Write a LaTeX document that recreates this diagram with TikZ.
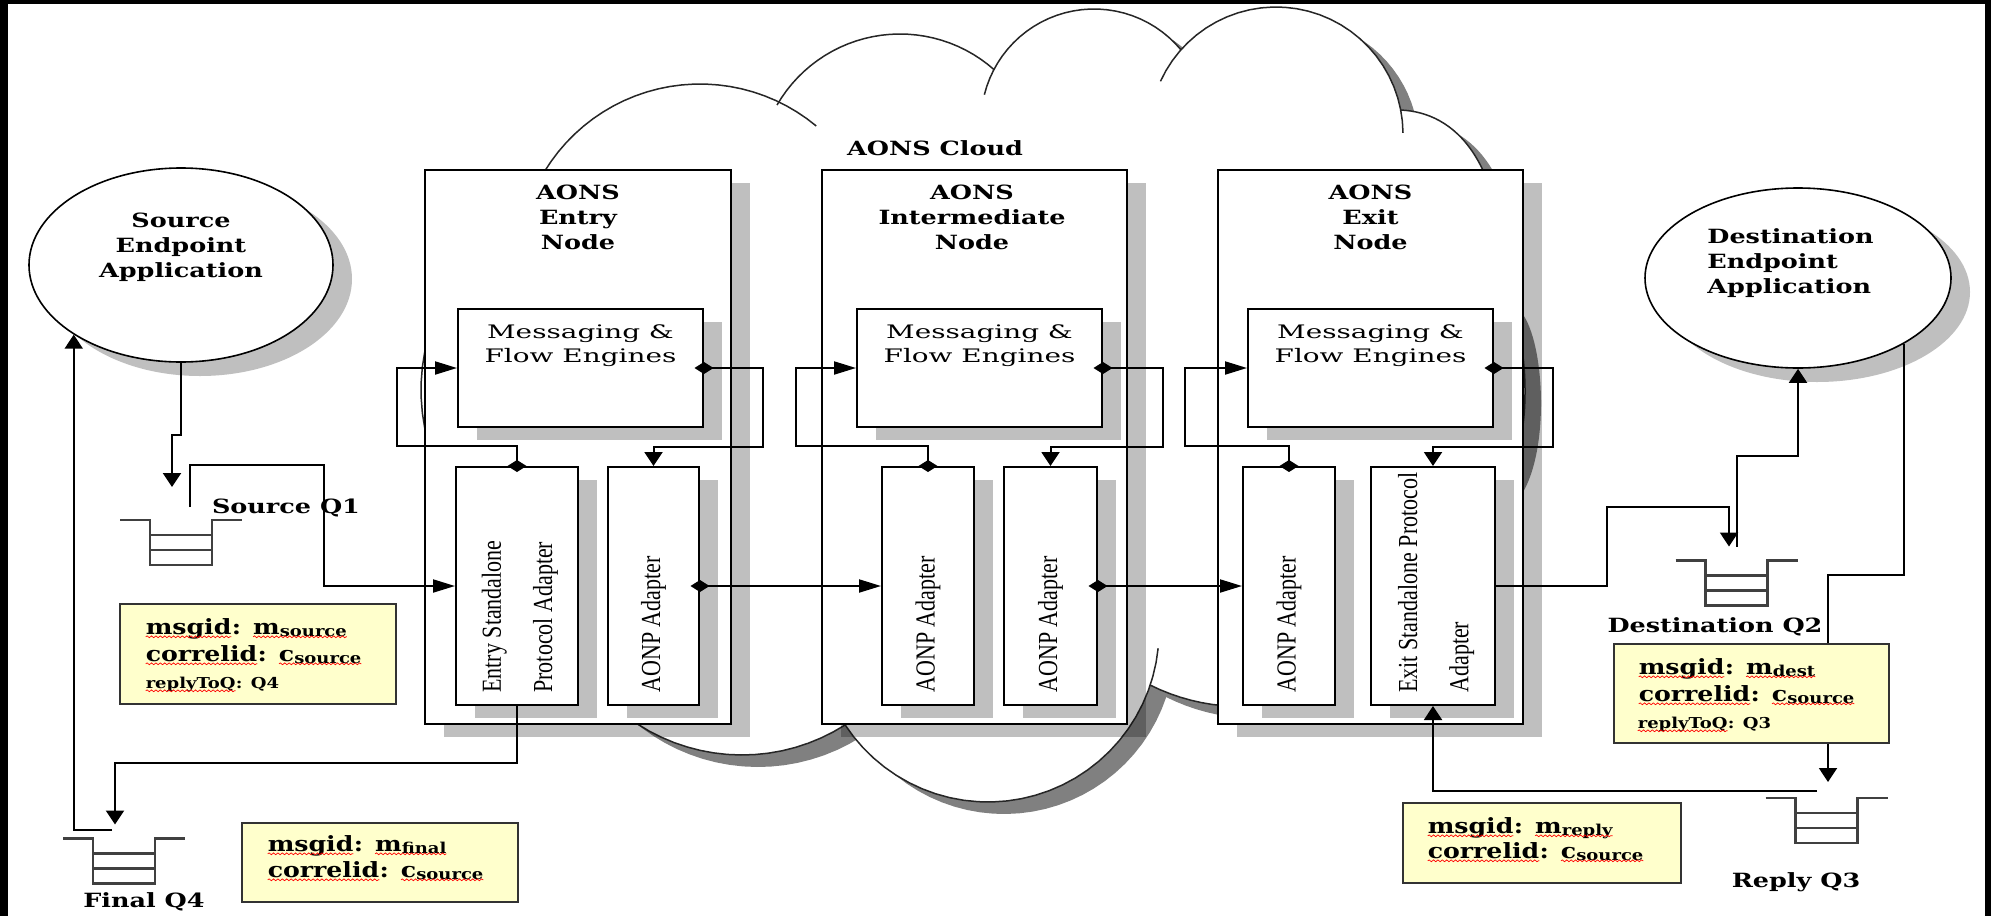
\documentclass[tikz,border=0pt]{standalone}
\usepackage{fontspec}
\usetikzlibrary{arrows.meta,calc,decorations.pathmorphing,shapes.geometric,shadows}
\newfontfamily\ttlfont{DejaVu Serif}[FakeStretch=1.3]
\newfontfamily\yfont{DejaVu Serif}[FakeStretch=1.2]
\newfontfamily\msgfont{DejaVu Serif}[FakeStretch=1.5]
\newfontfamily\adpfont{Liberation Serif}
\definecolor{yel}{HTML}{FFFFCC}
\definecolor{cshd}{HTML}{808080}
\newcommand\sq[1]{\tikz[baseline=(sqw.base)]{\node[inner sep=0pt,outer sep=0pt](sqw){#1};\draw[red,line width=0.35pt,decorate,decoration={snake,amplitude=0.45pt,segment length=2.2pt}]([yshift=-1.4pt]sqw.base west)--([yshift=-1.4pt]sqw.base east);}}
\newcommand\sbs[1]{\raisebox{-1pt}{\fontsize{7.5}{8}\selectfont #1}}
\newcommand\cloudshape{plot[domain=195.1:296.3,samples=30] ({700+182*cos(\x)},{266+182*sin(\x)})
 -- plot[domain=210:311.6,samples=30] ({900+142*cos(\x)},{176+142*sin(\x)})
 -- plot[domain=207.5:320.4,samples=30] ({1094+113*cos(\x)},{122+113*sin(\x)})
 -- plot[domain=221.5:349,samples=30] ({1276+127*cos(\x)},{134+127*sin(\x)})
 -- (1400,110) .. controls (1455,112) and (1506,160) .. (1505,300)
 .. controls (1530,330) and (1535,450) .. (1500,490)
 .. controls (1490,550) and (1460,590) .. (1425,600)
 -- plot[domain=27.8:116.6,samples=30] ({1241+203.5*cos(\x)},{503+203.5*sin(\x)})
 -- plot[domain=18.4:146.7,samples=30] ({988+171*cos(\x)},{631+171*sin(\x)})
 -- plot[domain=57.5:176.4,samples=30] ({742+192*cos(\x)},{563+192*sin(\x)})
 -- plot[domain=110.2:240.8,samples=30] ({618+197*cos(\x)},{390+197*sin(\x)})
 -- cycle}
\newcommand\drawqueue[1]{%
 \draw[qline] ([xshift=-15pt]#1.north west) -- (#1.north west) -- (#1.south west) -- (#1.south east) -- (#1.north east) -- ([xshift=15pt]#1.north east);
 \draw[qline] ($(#1.north west)!0.333!(#1.south west)$) -- ($(#1.north east)!0.333!(#1.south east)$);
 \draw[qline] ($(#1.north west)!0.667!(#1.south west)$) -- ($(#1.north east)!0.667!(#1.south east)$);}
\newcommand\dmd[1]{\fill (#1) +(-9.5,0) -- +(0,-6) -- +(9.5,0) -- +(0,6) -- cycle;}
\begin{document}
\begin{tikzpicture}[x=0.5pt,y=-0.5pt,
  nodebox/.style={draw=black,line width=1pt,fill=white,inner sep=0pt,drop shadow={shadow xshift=9.5pt,shadow yshift=-6.5pt,fill=black,opacity=0.25}},
  ell/.style={ellipse,draw=black,line width=0.8pt,fill=white,inner sep=0pt,drop shadow={shadow xshift=9.5pt,shadow yshift=-7pt,fill=black,opacity=0.25}},
  ybox/.style={draw=black!80,line width=1pt,fill=yel,inner sep=0pt},
  qnode/.style={inner sep=0pt,outer sep=0pt,minimum width=31pt,minimum height=22.5pt},
  qline/.style={draw=black!75,line width=1.1pt},
  cloudline/.style={draw=black!85,line width=0.75pt},
  conn/.style={draw=black,line width=1pt},
  harr/.style={-{Triangle[length=11pt,width=6.5pt]}},
  varr/.style={-{Triangle[length=7pt,width=9pt]}},
  ttl/.style={font=\ttlfont\bfseries\fontsize{9.8}{12.5}\selectfont,align=center,inner sep=0pt},
  msg/.style={font=\msgfont\fontsize{9.3}{12}\selectfont,align=center,inner sep=0pt},
  adp/.style={font=\adpfont\fontsize{11}{20.5}\selectfont,align=left,inner sep=0pt,rotate=90,yscale=1.25,anchor=west},
  ylin/.style={font=\yfont\bfseries\fontsize{10.5}{12}\selectfont,inner sep=0pt,anchor=base west},
  ysm/.style={font=\yfont\bfseries\fontsize{7.5}{9}\selectfont,inner sep=0pt,anchor=base west}]
\useasboundingbox (0,0) rectangle (1991,916);
\fill[black] (0,0) rectangle (1991,916);
\fill[white] (8,4) rectangle (1985,916);
% cloud
\begin{scope}[shift={(16,12)}]
 \fill[cshd] \cloudshape;
\end{scope}
\fill[white] \cloudshape;
\draw[cloudline] plot[domain=200:309.7,samples=30] ({700+182*cos(\x)},{266+182*sin(\x)});
\draw[cloudline] plot[domain=210:311.6,samples=30] ({900+142*cos(\x)},{176+142*sin(\x)});
\draw[cloudline] plot[domain=194:320.4,samples=30] ({1094+113*cos(\x)},{122+113*sin(\x)});
\draw[cloudline] plot[domain=204.5:359.5,samples=30] ({1276+127*cos(\x)},{134+127*sin(\x)});
\draw[cloudline] (1400,110) .. controls (1455,112) and (1506,160) .. (1505,300) .. controls (1530,330) and (1535,450) .. (1500,490) .. controls (1490,550) and (1460,590) .. (1425,600);
\draw[cloudline] plot[domain=27.8:116.6,samples=30] ({1241+203.5*cos(\x)},{503+203.5*sin(\x)});
\draw[cloudline] plot[domain=5.8:146.7,samples=30] ({988+171*cos(\x)},{631+171*sin(\x)});
\draw[cloudline] plot[domain=57.5:176.4,samples=30] ({742+192*cos(\x)},{563+192*sin(\x)});
\draw[cloudline] plot[domain=110.2:240.8,samples=30] ({618+197*cos(\x)},{390+197*sin(\x)});
\node[ttl] (cloudl) at (935,148) {AONS Cloud};
% endpoints
\node[ell,minimum width=152pt,minimum height=97pt] (src) at (181,265) {};
\node[ttl,anchor=north] (srct) at (181,213) {Source\\Endpoint\\Application};
\node[ell,minimum width=153pt,minimum height=90pt] (dst) at (1798,278) {};
\node[ttl,anchor=north west,align=left] (dstt) at (1707,228) {Destination\\Endpoint\\Application};
% AONS nodes
\node[nodebox,minimum width=153pt,minimum height=277pt] (en) at (578,447) {};
\node[nodebox,minimum width=152.5pt,minimum height=277pt] (in) at (974.5,447) {};
\node[nodebox,minimum width=152.5pt,minimum height=277pt] (xn) at (1370.5,447) {};
\node[ttl,anchor=north] (ent) at (578,185) {AONS\\Entry\\Node};
\node[ttl,anchor=north] (int) at (972,185) {AONS\\Intermediate\\Node};
\node[ttl,anchor=north] (xnt) at (1370.5,185) {AONS\\Exit\\Node};
% messaging engines
\node[nodebox,minimum width=122.5pt,minimum height=59pt] (em) at (580.5,368) {};
\node[nodebox,minimum width=122.5pt,minimum height=59pt] (im) at (979.5,368) {};
\node[nodebox,minimum width=122.5pt,minimum height=59pt] (xm) at (1370.5,368) {};
\node[msg,anchor=north] (emt) at (580.5,324) {Messaging \&\\Flow Engines};
\node[msg,anchor=north] (imt) at (979.5,324) {Messaging \&\\Flow Engines};
\node[msg,anchor=north] (xmt) at (1370.5,324) {Messaging \&\\Flow Engines};
% adapters
\node[nodebox,minimum width=61pt,minimum height=119pt] (esa) at (517,586) {};
\node[nodebox,minimum width=45.5pt,minimum height=119pt] (eaa) at (653.5,586) {};
\node[nodebox,minimum width=46pt,minimum height=119pt] (ia1) at (928,586) {};
\node[nodebox,minimum width=46.5pt,minimum height=119pt] (ia2) at (1050.5,586) {};
\node[nodebox,minimum width=46pt,minimum height=119pt] (xaa) at (1289,586) {};
\node[nodebox,minimum width=62pt,minimum height=119pt] (xsa) at (1433,586) {};
\node[adp] (esat) at (520,693) {Entry Standalone\\Protocol Adapter};
\node[adp] (eaat) at (653.5,693) {AONP Adapter};
\node[adp] (ia1t) at (928,693) {AONP Adapter};
\node[adp] (ia2t) at (1050.5,693) {AONP Adapter};
\node[adp] (xaat) at (1289,693) {AONP Adapter};
\node[adp] (xsat) at (1436,693) {Exit Standalone Protocol\\Adapter};
% queues
\node[qnode] (q1) at (181,542.5) {};
\node[qnode] (q4) at (124,861) {};
\node[qnode] (q2) at (1736.5,583) {};
\node[qnode] (q3) at (1826.5,820.5) {};
\drawqueue{q1}\drawqueue{q4}\drawqueue{q2}\drawqueue{q3}
\node[ttl] (q1l) at (286,508) {Source Q1};
\node[ttl] (q4l) at (144,902) {Final Q4};
\node[ttl] (q2l) at (1715,627) {Destination Q2};
\node[ttl] (q3l) at (1796,882) {Reply Q3};
\coordinate (q1in) at ([xshift=-4.5pt,yshift=16.5pt]q1.north);
\coordinate (q1out) at ([xshift=4.5pt,yshift=6.5pt]q1.north);
\coordinate (q4in) at ([xshift=-4.5pt,yshift=7pt]q4.north);
\coordinate (q4out) at ([xshift=-6pt,yshift=4.5pt]q4.north);
\coordinate (q2in) at ([xshift=-3.75pt,yshift=7pt]q2.north);
\coordinate (q2out) at ([yshift=7pt]q2.north);
\coordinate (q3in) at ([xshift=0.75pt,yshift=8pt]q3.north);
\coordinate (q3out) at ([xshift=-4.75pt,yshift=3.5pt]q3.north);
% loops inside nodes
\draw[conn,harr] (esa.north) -- ++(0,-20) -| (397,368) -- (em.west);
\draw[conn,varr] (em.east) -| (763,447) -| (eaa.north);
\draw[conn,harr] (ia1.north) -- ++(0,-20) -| (796,368) -- (im.west);
\draw[conn,varr] (im.east) -| (1163,447) -| (ia2.north);
\draw[conn,harr] (xaa.north) -- ++(0,-20) -| (1185,368) -- (xm.west);
\draw[conn,varr] (xm.east) -| (1553,447) -| (xsa.north);
% between nodes
\draw[conn,harr] (eaa.east) -- (ia1.west);
\draw[conn,harr] (ia2.east) -- (xaa.west);
% endpoints and queues
\draw[conn,varr] (src.south) |- (172,435) -- (q1in);
\draw[conn,harr] (q1out) |- (324,465) |- (esa.west);
\draw[conn,varr] (esa.south) |- (115,763) -- (q4in);
\draw[conn,varr] (q4out) -| (src.213.7);
\draw[conn,varr] (xsa.east) -| (1607,507) -| (q2in);
\draw[conn,varr] (q2out) |- (1798,456) -- (dst.south);
\draw[conn,varr] (dst.328.5) |- (1828,575) -- (q3in);
\draw[conn,varr] (q3out) -| (xsa.south);
% diamonds
\dmd{esa.north}\dmd{em.east}\dmd{ia1.north}\dmd{im.east}\dmd{xaa.north}\dmd{xm.east}\dmd{eaa.east}\dmd{ia2.east}
% message boxes
\node[ybox,minimum width=138pt,minimum height=50pt] (y1) at (258,654) {};
\node[ylin] (y1a) at (145,634) {\sq{msgid}: \sq{m\sbs{source}}};
\node[ylin] (y1b) at (145,661) {\sq{correlid}: \sq{c\sbs{source}}};
\node[ysm] (y1c) at (145,688) {\sq{replyToQ}: Q4};
\node[ybox,minimum width=138pt,minimum height=39.5pt] (y2) at (380,862.5) {};
\node[ylin] (y2a) at (267,851) {\sq{msgid}: \sq{m\sbs{final}}};
\node[ylin] (y2b) at (267,877) {\sq{correlid}: \sq{c\sbs{source}}};
\node[ybox,minimum width=137.5pt,minimum height=49.5pt] (y3) at (1751.5,693.5) {};
\node[ylin] (y3a) at (1638,674) {\sq{msgid}: \sq{m\sbs{dest}}};
\node[ylin] (y3b) at (1638,701) {\sq{correlid}: \sq{c\sbs{source}}};
\node[ysm] (y3c) at (1637,728) {\sq{replyToQ}: Q3};
\node[ybox,minimum width=139pt,minimum height=40pt] (y4) at (1542,843) {};
\node[ylin] (y4a) at (1427,833) {\sq{msgid}: \sq{m\sbs{reply}}};
\node[ylin] (y4b) at (1427,858) {\sq{correlid}: \sq{c\sbs{source}}};
\end{tikzpicture}
\end{document}
